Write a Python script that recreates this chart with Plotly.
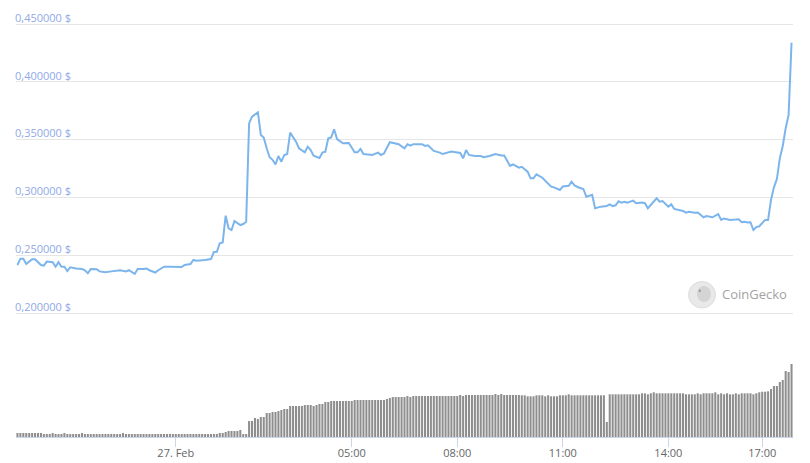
import pandas as pd
import plotly.graph_objects as go

# ---------------- data ----------------
# 5-minute sample slots shown on the (ordinal) time axis
slot_start = "2023-02-26 19:30"
slot_end = "2023-02-27 17:50"
missing_slots = ["27.02 14:40", "27.02 15:25", "27.02 16:05", "27.02 16:40"]

price_time = [
    "26.02 19:30", "26.02 19:35", "26.02 19:40", "26.02 19:45", "26.02 19:55", "26.02 20:00",
    "26.02 20:10", "26.02 20:15", "26.02 20:20", "26.02 20:30", "26.02 20:35", "26.02 20:40",
    "26.02 20:45", "26.02 20:50", "26.02 20:55", "26.02 21:00", "26.02 21:10", "26.02 21:20",
    "26.02 21:25", "26.02 21:30", "26.02 21:35", "26.02 21:45", "26.02 21:50", "26.02 22:00",
    "26.02 22:10", "26.02 22:20", "26.02 22:25", "26.02 22:35", "26.02 22:40", "26.02 22:50",
    "26.02 22:55", "26.02 23:05", "26.02 23:10", "26.02 23:15", "26.02 23:25", "26.02 23:30",
    "26.02 23:40", "26.02 23:50",
    "27.02 00:00", "27.02 00:10", "27.02 00:15", "27.02 00:25", "27.02 00:30", "27.02 00:35",
    "27.02 00:50", "27.02 01:00", "27.02 01:05", "27.02 01:10", "27.02 01:15", "27.02 01:20",
    "27.02 01:25", "27.02 01:30", "27.02 01:35", "27.02 01:40", "27.02 01:50", "27.02 01:55",
    "27.02 02:00", "27.02 02:05", "27.02 02:10", "27.02 02:20", "27.02 02:25", "27.02 02:30",
    "27.02 02:35", "27.02 02:40", "27.02 02:45", "27.02 02:50", "27.02 02:55", "27.02 03:00",
    "27.02 03:05", "27.02 03:10", "27.02 03:15", "27.02 03:25", "27.02 03:30", "27.02 03:40",
    "27.02 03:45", "27.02 03:50", "27.02 03:55", "27.02 04:05", "27.02 04:10", "27.02 04:15",
    "27.02 04:20", "27.02 04:25", "27.02 04:30", "27.02 04:35", "27.02 04:45", "27.02 04:55",
    "27.02 05:05", "27.02 05:10", "27.02 05:15", "27.02 05:20", "27.02 05:35", "27.02 05:45",
    "27.02 05:50", "27.02 05:55", "27.02 06:05", "27.02 06:20", "27.02 06:30", "27.02 06:35",
    "27.02 06:40", "27.02 06:45", "27.02 07:00", "27.02 07:05", "27.02 07:10", "27.02 07:20",
    "27.02 07:30", "27.02 07:35", "27.02 07:50", "27.02 07:55", "27.02 08:05", "27.02 08:10",
    "27.02 08:15", "27.02 08:20", "27.02 08:30", "27.02 08:40", "27.02 08:45", "27.02 08:55",
    "27.02 09:05", "27.02 09:15", "27.02 09:20", "27.02 09:30", "27.02 09:35", "27.02 09:45",
    "27.02 09:50", "27.02 10:00", "27.02 10:05", "27.02 10:10", "27.02 10:15", "27.02 10:25",
    "27.02 10:30", "27.02 10:40", "27.02 10:45", "27.02 10:55", "27.02 11:00", "27.02 11:10",
    "27.02 11:15", "27.02 11:20", "27.02 11:25", "27.02 11:35", "27.02 11:40", "27.02 11:50",
    "27.02 11:55", "27.02 12:05", "27.02 12:15", "27.02 12:20", "27.02 12:25", "27.02 12:30",
    "27.02 12:35", "27.02 12:40", "27.02 12:45", "27.02 12:50", "27.02 13:00", "27.02 13:05",
    "27.02 13:15", "27.02 13:20", "27.02 13:25", "27.02 13:30", "27.02 13:40", "27.02 13:45",
    "27.02 13:50", "27.02 14:00", "27.02 14:05", "27.02 14:10", "27.02 14:20", "27.02 14:25",
    "27.02 14:30", "27.02 14:35", "27.02 14:50", "27.02 14:55", "27.02 15:05", "27.02 15:10",
    "27.02 15:20", "27.02 15:35", "27.02 15:40", "27.02 15:45", "27.02 15:55", "27.02 16:00",
    "27.02 16:15", "27.02 16:20", "27.02 16:25", "27.02 16:30", "27.02 16:35", "27.02 16:45",
    "27.02 16:50", "27.02 16:55", "27.02 17:05", "27.02 17:10", "27.02 17:15", "27.02 17:20",
    "27.02 17:25", "27.02 17:30", "27.02 17:35", "27.02 17:40", "27.02 17:45", "27.02 17:50",
]

price_value = [
    0.2415, 0.2470, 0.2470, 0.2425, 0.2465, 0.2465,
    0.2415, 0.2410, 0.2445, 0.2440, 0.2400, 0.2440,
    0.2400, 0.2400, 0.2363, 0.2395, 0.2385, 0.2380,
    0.2370, 0.2344, 0.2380, 0.2378, 0.2360, 0.2352,
    0.2360, 0.2365, 0.2370, 0.2360, 0.2370, 0.2338,
    0.2380, 0.2380, 0.2385, 0.2370, 0.2350, 0.2370,
    0.2400, 0.2400,
    0.2398, 0.2398, 0.2415, 0.2424, 0.2459, 0.2453,
    0.2459, 0.2467, 0.2528, 0.2530, 0.2603, 0.2610,
    0.2842, 0.2733, 0.2718, 0.2796, 0.2761, 0.2770,
    0.2790, 0.3640, 0.3698, 0.3736, 0.3540, 0.3517,
    0.3425, 0.3347, 0.3325, 0.3286, 0.3358, 0.3309,
    0.3367, 0.3375, 0.3560, 0.3482, 0.3425, 0.3390,
    0.3439, 0.3410, 0.3360, 0.3341, 0.3387, 0.3396,
    0.3511, 0.3519, 0.3589, 0.3505, 0.3468, 0.3470,
    0.3390, 0.3390, 0.3419, 0.3375, 0.3367, 0.3387,
    0.3367, 0.3380, 0.3477, 0.3460, 0.3425, 0.3460,
    0.3447, 0.3460, 0.3460, 0.3445, 0.3451, 0.3402,
    0.3387, 0.3375, 0.3396, 0.3390, 0.3384, 0.3338,
    0.3410, 0.3367, 0.3358, 0.3358, 0.3347, 0.3358,
    0.3375, 0.3362, 0.3362, 0.3272, 0.3286, 0.3257,
    0.3265, 0.3222, 0.3165, 0.3165, 0.3200, 0.3170,
    0.3146, 0.3093, 0.3087, 0.3064, 0.3095, 0.3100,
    0.3136, 0.3103, 0.3090, 0.3073, 0.3006, 0.3022,
    0.2906, 0.2920, 0.2926, 0.2940, 0.2925, 0.2932,
    0.2966, 0.2955, 0.2963, 0.2955, 0.2972, 0.2950,
    0.2955, 0.2950, 0.2906, 0.2933, 0.2992, 0.2963,
    0.2969, 0.2920, 0.2940, 0.2900, 0.2891, 0.2883,
    0.2868, 0.2875, 0.2868, 0.2870, 0.2828, 0.2838,
    0.2828, 0.2855, 0.2805, 0.2818, 0.2805, 0.2805,
    0.2810, 0.2785, 0.2790, 0.2783, 0.2785, 0.2718,
    0.2743, 0.2750, 0.2805, 0.2805, 0.2978, 0.3087,
    0.3159, 0.3338, 0.3445, 0.3598, 0.3713, 0.4338,
]

# volume per slot (thousand USD), one value per 5-minute slot
volume = [
    40, 40, 40, 40, 40, 40, 40, 40, 40, 30, 30, 30, 40, 30, 30, 30, 40, 30, 30, 30,
    30, 30, 40, 30, 30, 30, 30, 30, 30, 30, 30, 30, 30, 30, 30, 30, 40, 30, 30, 30,
    30, 30, 30, 30, 30, 30, 30, 30, 30, 30, 30, 30, 30, 30, 30, 30, 30, 30, 30, 30,
    30, 30, 30, 30, 30, 30, 30, 30, 30, 40, 40, 50, 60, 60, 60, 60, 70, 30, 30, 160,
    160, 190, 180, 200, 200, 240, 240, 250, 250, 260, 270, 280, 280, 310, 310, 310, 310, 310, 320, 320,
    320, 310, 320, 330, 330, 350, 350, 360, 360, 360, 360, 360, 360, 360, 360, 370, 370, 370, 370, 370,
    370, 370, 370, 370, 370, 370, 380, 390, 400, 400, 400, 400, 400, 410, 400, 410, 410, 410, 410, 410,
    410, 410, 410, 410, 410, 410, 410, 410, 410, 410, 410, 420, 410, 420, 420, 420, 420, 420, 420, 420,
    420, 420, 420, 430, 420, 430, 420, 420, 420, 420, 420, 420, 417, 417, 407, 407, 407, 417, 417, 417,
    407, 417, 407, 407, 407, 417, 417, 417, 427, 417, 417, 417, 417, 417, 417, 417, 417, 417, 417, 417,
    417, 150, 427, 427, 427, 427, 427, 427, 427, 427, 427, 427, 427, 437, 437, 427, 437, 447, 437, 437,
    437, 437, 437, 437, 437, 437, 437, 437, 427, 427, 427, 427, 437, 427, 437, 437, 437, 437, 447, 427,
    437, 427, 437, 427, 427, 437, 427, 437, 437, 437, 437, 427, 437, 447, 453, 453, 457, 480, 510, 510,
    550, 570, 660, 650, 730,
]

tick_slots = ["27.02 00:00", "27.02 05:00", "27.02 08:00", "27.02 11:00", "27.02 14:00", "27.02 17:00"]
tick_labels = ["27. Feb", "05:00", "08:00", "11:00", "14:00", "17:00"]

price_ticks = [0.20, 0.25, 0.30, 0.35, 0.40, 0.45]
price_tick_labels = ["0,200000 $", "0,250000 $", "0,300000 $", "0,350000 $", "0,400000 $", "0,450000 $"]

# ---------------- build ----------------
slots = [t.strftime("%d.%m %H:%M") for t in pd.date_range(slot_start, slot_end, freq="5min")]
slots = [s for s in slots if s not in missing_slots]

# the page body has an 8px margin: work in screen pixels, then subtract it
OFF = 8
W, H = 810 - OFF, 463 - OFF
SX0, SX1 = 16, 793          # plot area left / right on screen
SY_AXIS = 437               # x axis line on screen
SY_TOP = 9                  # top of price pane on screen
L = SX0 - OFF
R = W - (SX1 - OFF)
T = SY_TOP - OFF
B = H - (SY_AXIS - OFF)
plot_w = W - L - R
plot_h = H - T - B

# price pane: 0.45 gridline at y=24, 0.20 gridline at y=313 (screen)
PX_HI, PX_LO = 24.0, 313.0
px_per_unit = (PX_LO - PX_HI) / (0.45 - 0.20)
price_lo = 0.19
y_bot = PX_LO + (0.20 - price_lo) * px_per_unit
price_hi = 0.45 + (PX_HI - SY_TOP) / px_per_unit
price_range = [price_lo, price_hi]


def px_x(x):
    return (x - OFF - L) / plot_w


def px_y(y):
    return (H - B - (y - OFF)) / plot_h


fig = go.Figure()

fig.add_trace(go.Bar(
    x=slots, y=volume, xaxis="x", yaxis="y2",
    marker=dict(color="#8e8e8e", line=dict(width=0)),
    hoverinfo="skip", showlegend=False,
))

fig.add_trace(go.Scatter(
    x=price_time, y=price_value, xaxis="x", yaxis="y",
    mode="lines", line=dict(color="#7cb5ec", width=2),
    hoverinfo="skip", showlegend=False,
))

# CoinGecko watermark
fig.add_shape(type="circle", xref="paper", yref="paper",
              x0=px_x(688.5), x1=px_x(715.5), y0=px_y(308), y1=px_y(281.5),
              fillcolor="#e9e9e9", line=dict(color="#dcdcdc", width=1), layer="below")
fig.add_shape(type="circle", xref="paper", yref="paper",
              x0=px_x(697), x1=px_x(711), y0=px_y(302), y1=px_y(286),
              fillcolor="#d4d4d4", line=dict(width=0), layer="below")
fig.add_shape(type="circle", xref="paper", yref="paper",
              x0=px_x(698.5), x1=px_x(701), y0=px_y(292), y1=px_y(289.5),
              fillcolor="#9a9a9a", line=dict(width=0), layer="below")
fig.add_annotation(text="CoinGecko", xref="paper", yref="paper",
                   x=px_x(719.5), y=px_y(294), xanchor="left", yanchor="middle",
                   showarrow=False, font=dict(family="Open Sans", size=13, color="#a3a3a3"))

fig.update_layout(
    width=W, height=H,
    margin=dict(l=L, r=R, t=T, b=B, autoexpand=False),
    paper_bgcolor="white", plot_bgcolor="white",
    bargap=0.3,
    font=dict(family="Open Sans"),
    xaxis=dict(
        type="category", categoryorder="array", categoryarray=slots,
        range=[-0.5, len(slots) - 0.5], anchor="y2", automargin=False,
        tickmode="array", tickvals=tick_slots, ticktext=tick_labels,
        ticks="outside", ticklen=9, tickcolor="#ccd6eb", tickwidth=1,
        ticklabelstandoff=-3,
        showline=True, linecolor="#ccd6eb", linewidth=1,
        showgrid=False, zeroline=False,
        tickfont=dict(family="Open Sans", size=11, color="#666666"),
    ),
    yaxis=dict(
        domain=[px_y(y_bot), min(1.0, px_y(SY_TOP))], range=price_range, automargin=False,
        tickmode="array", tickvals=price_ticks, ticktext=price_tick_labels,
        ticklabelposition="inside", ticklabelshift=-6, ticklabelstandoff=-4,
        showgrid=True, gridcolor="#e6e6e6", gridwidth=1,
        zeroline=False, showline=False, ticks="",
        tickfont=dict(family="Open Sans", size=11, color="#8fa9e8"),
    ),
    yaxis2=dict(
        domain=[0, px_y(330)], range=[0, 1070], automargin=False,
        showgrid=False, zeroline=False, showticklabels=False, showline=False, ticks="",
    ),
)

fig.write_html("out.html")
